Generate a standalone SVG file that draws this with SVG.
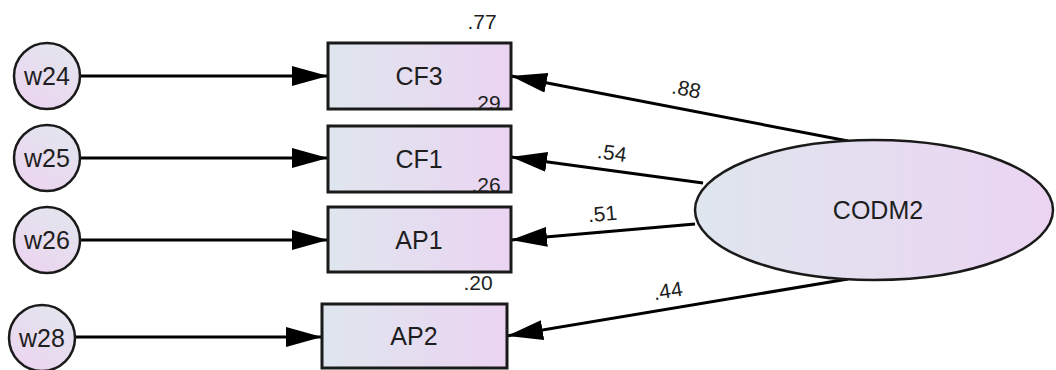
<svg xmlns="http://www.w3.org/2000/svg" width="1056" height="370" viewBox="0 0 1056 370">
  <defs>
    <linearGradient id="boxFill" x1="0" y1="0" x2="1" y2="0">
      <stop offset="0" stop-color="#dfe6ee"/>
      <stop offset="1" stop-color="#ebd4f2"/>
    </linearGradient>
    <linearGradient id="errFill" x1="0.8" y1="0" x2="0.2" y2="1">
      <stop offset="0" stop-color="#e2e6ee"/>
      <stop offset="1" stop-color="#ecd4f0"/>
    </linearGradient>
    <marker id="head" markerUnits="userSpaceOnUse" markerWidth="37" markerHeight="20" refX="36" refY="10" orient="auto">
      <path d="M0,0 L36,10 L0,20 z" fill="#000"/>
    </marker>
    <style>
      .box { fill: url(#boxFill); stroke: #1a1a1a; stroke-width: 3; }
      .err { fill: url(#errFill); stroke: #1a1a1a; stroke-width: 2.5; }
      .lat { fill: url(#boxFill); stroke: #1a1a1a; stroke-width: 2.5; }
      .lbl { font-family: "Liberation Sans", Arial, sans-serif; font-size: 25px; fill: #1e1e1e; text-anchor: middle; }
      .num { font-family: "Liberation Sans", Arial, sans-serif; font-size: 21px; fill: #1e1e1e; text-anchor: middle; }
      .path { stroke: #000; stroke-width: 3; fill: none; marker-end: url(#head); }
    </style>
  </defs>
  <rect width="1056" height="370" fill="#fff"/>

  <g id="connectors">
    <line class="path" x1="80" y1="76" x2="328" y2="76"/>
    <line class="path" x1="80" y1="158" x2="328" y2="158"/>
    <line class="path" x1="80" y1="240" x2="328" y2="240"/>
    <line class="path" x1="75" y1="337" x2="322" y2="337"/>
    <line class="path" x1="848" y1="141" x2="511" y2="76"/>
    <line class="path" x1="703" y1="183" x2="511" y2="157"/>
    <line class="path" x1="695" y1="224" x2="511" y2="240"/>
    <line class="path" x1="848" y1="279" x2="507" y2="336"/>
    <text class="num" transform="translate(685,96) rotate(11)">.88</text>
    <text class="num" transform="translate(611,160) rotate(8)">.54</text>
    <text class="num" transform="translate(603,221) rotate(-5)">.51</text>
    <text class="num" transform="translate(669,298) rotate(-9)">.44</text>
  </g>

  <g id="w24">
    <circle class="err" cx="47" cy="76" r="33"/>
    <text class="lbl" x="47" y="85">w24</text>
  </g>
  <g id="w25">
    <circle class="err" cx="47" cy="158" r="33"/>
    <text class="lbl" x="47" y="167">w25</text>
  </g>
  <g id="w26">
    <circle class="err" cx="47" cy="240" r="33"/>
    <text class="lbl" x="47" y="249">w26</text>
  </g>
  <g id="w28">
    <circle class="err" cx="42" cy="338" r="33"/>
    <text class="lbl" x="42" y="347">w28</text>
  </g>

  <g id="CF3">
    <rect class="box" x="328" y="43" width="183" height="66"/>
    <text class="lbl" x="419" y="85">CF3</text>
    <text class="num" x="482" y="29">.77</text>
  </g>
  <g id="CF1">
    <rect class="box" x="328" y="126" width="183" height="66"/>
    <text class="lbl" x="419" y="168">CF1</text>
    <text class="num" x="486" y="110">.29</text>
  </g>
  <g id="AP1">
    <rect class="box" x="328" y="207" width="183" height="65"/>
    <text class="lbl" x="419" y="249">AP1</text>
    <text class="num" x="486" y="192">.26</text>
  </g>
  <g id="AP2">
    <rect class="box" x="322" y="304" width="185" height="64"/>
    <text class="lbl" x="414" y="345">AP2</text>
    <text class="num" x="478" y="290">.20</text>
  </g>

  <g id="CODM2">
    <ellipse class="lat" cx="874" cy="210" rx="179" ry="70"/>
    <text class="lbl" x="878" y="219">CODM2</text>
  </g>
</svg>
